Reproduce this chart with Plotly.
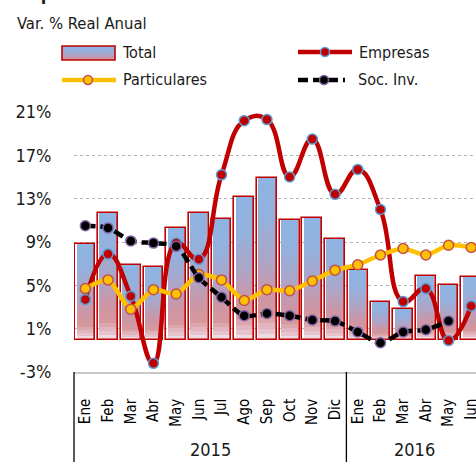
import plotly.graph_objects as go

# ---------------- data ----------------
years = ["2015", "2016"]
months_2015 = ["Ene", "Feb", "Mar", "Abr", "May", "Jun", "Jul", "Ago", "Sep", "Oct", "Nov", "Dic"]
months_2016 = ["Ene", "Feb", "Mar", "Abr", "May", "Jun"]
total = [8.8, 11.7, 6.9, 6.7, 10.3, 11.7, 11.1, 13.2, 14.9, 11.0, 11.2, 9.3,
         6.4, 3.5, 2.8, 5.9, 5.0, 5.8]
empresas = [3.7, 7.9, 4.0, -2.2, 8.9, 7.4, 15.2, 20.2, 20.3, 15.0, 18.5, 13.4,
            15.7, 12.0, 3.5, 4.7, -0.1, 3.1]
particulares = [4.7, 5.5, 2.8, 4.6, 4.2, 6.0, 5.5, 3.6, 4.6, 4.5, 5.4, 6.4,
                6.9, 7.8, 8.4, 7.8, 8.7, 8.5]
soc_inv = [10.5, 10.3, 9.1, 8.9, 8.6, 5.7, 3.9, 2.2, 2.4, 2.2, 1.8, 1.7,
           0.7, -0.3, 0.7, 0.9, 1.7, None]
y_ticks = [-3, 1, 5, 9, 13, 17, 21]
y_tick_labels = ["%d%%" % v for v in y_ticks]

month_labels = months_2015 + months_2016
group_sizes = [len(months_2015), len(months_2016)]
xs = list(range(len(month_labels)))

# ---------------- style ----------------
FONT = "DejaVu Sans Condensed, DejaVu Sans, sans-serif"
TXT = "#1a1a1a"
RED = "#C00000"
YEL = "#FFC000"
W, H = 476, 462
ML, MR, MT, MB = 74, 0, 112, 90
X_RANGE = [-0.5, 17.21]
Y_RANGE = [-3, 21]
PW, PH = W - ML - MR, H - MT - MB

def fx(px):
    return (px - ML) / PW

def fy(py):
    return (H - MB - py) / PH

GRAD = [(0.0, (242, 232, 240)), (0.05, (230, 195, 205)), (0.15, (215, 152, 157)),
        (0.28, (203, 150, 165)), (0.5, (172, 165, 200)), (0.75, (148, 177, 222)),
        (1.0, (141, 180, 226))]

def grad_color(f):
    for (a, ca), (b, cb) in zip(GRAD[:-1], GRAD[1:]):
        if a <= f <= b:
            t = (f - a) / (b - a)
            c = [round(ca[i] + (cb[i] - ca[i]) * t) for i in range(3)]
            return "rgb(%d,%d,%d)" % tuple(c)
    return "rgb(%d,%d,%d)" % GRAD[-1][1]

fig = go.Figure()

# gradient-filled bars (overlaid fractional slices of each Total bar)
N = 30
for k in range(N, 0, -1):
    fig.add_trace(go.Bar(
        x=xs, y=[v * k / N for v in total], width=0.76,
        marker=dict(color=grad_color((k - 0.5) / N), line=dict(width=0)),
        showlegend=False, hoverinfo="skip"))
# outline of Total bars
fig.add_trace(go.Bar(
    x=xs, y=total, width=0.87, name="Total",
    marker=dict(color="rgba(0,0,0,0)", line=dict(color=RED, width=1.6)),
    showlegend=False))

fig.add_trace(go.Scatter(
    x=xs, y=empresas, name="Empresas", mode="lines+markers",
    line=dict(color=RED, width=4.5, shape="spline", smoothing=1.3),
    marker=dict(size=10, color=RED, line=dict(color="#5B9BD5", width=1.5)),
    cliponaxis=False, showlegend=False))
fig.add_trace(go.Scatter(
    x=xs, y=particulares, name="Particulares", mode="lines+markers",
    line=dict(color=YEL, width=4.5, shape="spline", smoothing=0.6),
    marker=dict(size=10, color=YEL, line=dict(color="#C0504D", width=1.5)),
    cliponaxis=False, showlegend=False))
fig.add_trace(go.Scatter(
    x=xs, y=soc_inv, name="Soc. Inv.", mode="lines+markers",
    line=dict(color="black", width=4.5, shape="spline", smoothing=0.8, dash="10px,5px"),
    marker=dict(size=10, color="black", line=dict(color="#8064A2", width=1.5)),
    cliponaxis=False, showlegend=False))

shapes = []
annotations = []

# year group dividers and labels
bounds = [-0.5]
for n in group_sizes:
    bounds.append(bounds[-1] + n)
for b in bounds[:-1]:
    xp = (b - X_RANGE[0]) / (X_RANGE[1] - X_RANGE[0])
    shapes.append(dict(type="line", xref="paper", yref="paper", x0=xp, x1=xp,
                       y0=0, y1=fy(H), line=dict(color="black", width=1.3)))
for i, yr in enumerate(years):
    annotations.append(dict(x=(bounds[i] + bounds[i + 1]) / 2, xref="x", y=fy(449), yref="paper",
                            text=yr, showarrow=False, xanchor="center", yanchor="middle",
                            font=dict(family=FONT, size=18, color=TXT)))

# titles
annotations.append(dict(x=fx(16), y=fy(6), xref="paper", yref="paper", text="<b>Captación a Plazo</b>",
                        showarrow=False, xanchor="left", yanchor="bottom",
                        font=dict(family=FONT, size=18, color=TXT)))
annotations.append(dict(x=fx(15), y=fy(23), xref="paper", yref="paper", text="Var. % Real Anual",
                        showarrow=False, xanchor="left", yanchor="middle",
                        font=dict(family=FONT, size=16.5, color=TXT)))

# custom legend
sx0, sx1, sy0, sy1 = 62, 115, 46, 60
steps = 14
for i in range(steps):
    ya = sy0 + (sy1 - sy0) * i / steps
    yb = sy0 + (sy1 - sy0) * (i + 1) / steps
    f = 1 - (i + 0.5) / steps
    shapes.append(dict(type="rect", xref="paper", yref="paper", x0=fx(sx0), x1=fx(sx1),
                       y0=fy(yb), y1=fy(ya), fillcolor=grad_color(0.2 + 0.8 * f), line=dict(width=0)))
shapes.append(dict(type="rect", xref="paper", yref="paper", x0=fx(sx0), x1=fx(sx1),
                   y0=fy(sy1), y1=fy(sy0), fillcolor="rgba(0,0,0,0)", line=dict(color=RED, width=1.6)))

def legend_line(x0, x1, y, color, mx, mfill, mline, dash="solid"):
    shapes.append(dict(type="line", xref="paper", yref="paper", x0=fx(x0), x1=fx(x1),
                       y0=fy(y), y1=fy(y), line=dict(color=color, width=4.5, dash=dash)))
    shapes.append(dict(type="circle", xref="paper", yref="paper", xsizemode="pixel", ysizemode="pixel",
                       xanchor=fx(mx), yanchor=fy(y), x0=-4.5, x1=4.5, y0=-4.5, y1=4.5,
                       fillcolor=mfill, line=dict(color=mline, width=1.5)))

legend_line(298, 352, 52, RED, 325, RED, "#5B9BD5")
legend_line(62, 116, 80, YEL, 88, YEL, "#C0504D")
legend_line(298, 345, 80, "black", 324, "black", "#8064A2", dash="10px,5px")

for txt, px, py in [("Total", 120, 52.5), ("Empresas", 357, 52.5),
                    ("Particulares", 121, 79.5), ("Soc. Inv.", 356, 79.5)]:
    annotations.append(dict(x=fx(px), y=fy(py), xref="paper", yref="paper", text=txt,
                            showarrow=False, xanchor="left", yanchor="middle",
                            font=dict(family=FONT, size=16, color=TXT)))

fig.update_layout(
    width=W, height=H, autosize=False,
    margin=dict(l=ML, r=MR, t=MT, b=MB, pad=0),
    paper_bgcolor="white", plot_bgcolor="white",
    barmode="overlay", bargap=0,
    showlegend=False,
    font=dict(family=FONT, color=TXT),
    shapes=shapes, annotations=annotations,
    xaxis=dict(range=X_RANGE, tickmode="array", tickvals=xs, ticktext=month_labels,
               tickangle=-90, tickfont=dict(family=FONT, size=15, color="black"),
               ticklabeloverflow="allow",
               showgrid=False, zeroline=False, showline=True, linecolor="#C8C8C8", linewidth=1.5,
               ticks="outside", ticklen=19, tickcolor="rgba(0,0,0,0)", automargin=False, fixedrange=True),
    yaxis=dict(range=Y_RANGE, tickmode="array", tickvals=y_ticks, ticktext=y_tick_labels,
               tickfont=dict(family=FONT, size=18, color=TXT),
               showgrid=True, gridcolor="#B4B4B4", gridwidth=1, griddash="dot",
               zeroline=False, showline=False,
               ticks="outside", ticklen=18, tickcolor="rgba(0,0,0,0)", automargin=False, fixedrange=True),
)

fig.write_html("out.html", config={"displayModeBar": False},
               post_script="document.body.style.margin='0';document.body.style.overflow='hidden';")
